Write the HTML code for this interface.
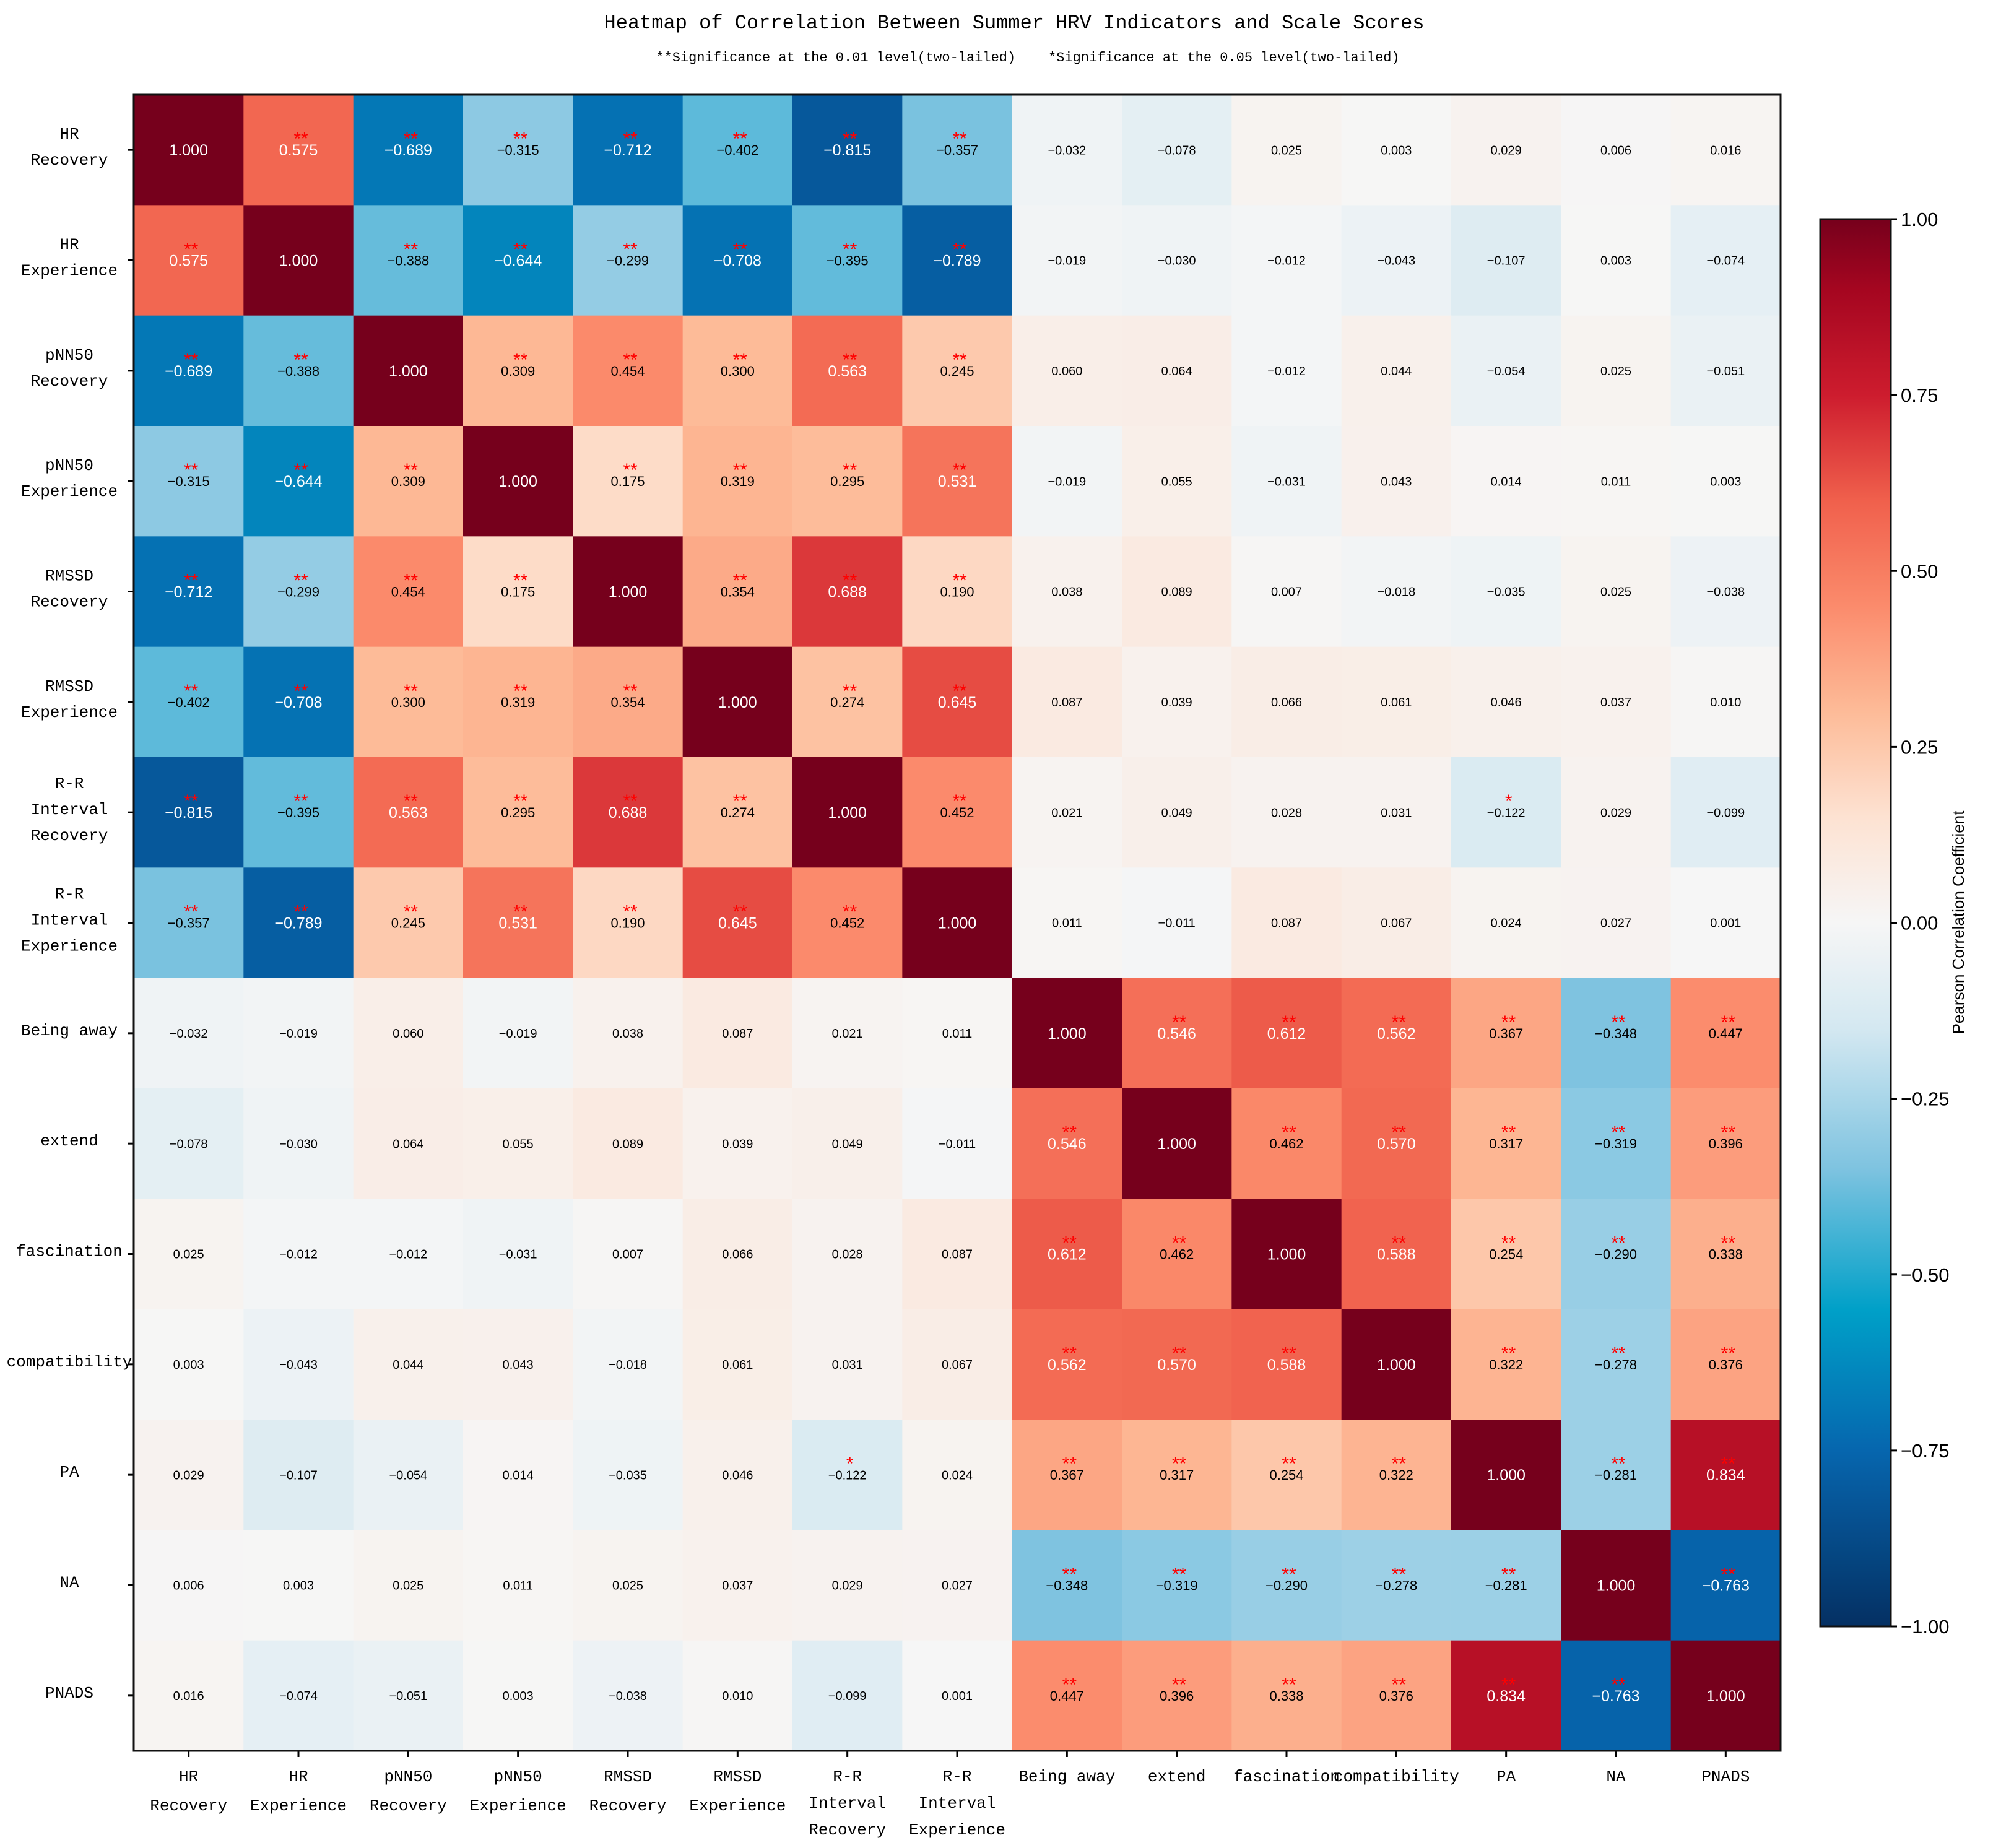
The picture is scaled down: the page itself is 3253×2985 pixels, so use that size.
<!DOCTYPE html>
<html><head><meta charset="utf-8"><style>
html,body{margin:0;padding:0;background:#fff;}
svg{display:block;}
</style></head><body>
<svg id="chart" width="3253" height="2985" viewBox="0 0 3253 2985" xmlns="http://www.w3.org/2000/svg">
<text x="1638" y="46" text-anchor="middle" font-family="Liberation Mono, monospace" font-size="32" fill="#000">Heatmap of Correlation Between Summer HRV Indicators and Scale Scores</text>
<text x="1660" y="99" text-anchor="middle" font-family="Liberation Mono, monospace" font-size="22" fill="#000" xml:space="preserve">**Significance at the 0.01 level(two-lailed)    *Significance at the 0.05 level(two-lailed)</text>
<g id="cells"></g>
<g id="ylabels"></g>
<g id="xlabels"></g>
<rect x="216" y="153" width="2660" height="2675" fill="none" stroke="#111" stroke-width="3"/>
<defs><linearGradient id="cbgrad" x1="0" y1="1" x2="0" y2="0"></linearGradient></defs>
<g id="colorbar"></g>
<text transform="translate(3172,1490) rotate(-90)" text-anchor="middle" font-family="Liberation Sans, sans-serif" font-size="26" fill="#000">Pearson Correlation Coefficient</text>
</svg>
<script>
const labels = [["HR","Recovery"],["HR","Experience"],["pNN50","Recovery"],["pNN50","Experience"],["RMSSD","Recovery"],["RMSSD","Experience"],["R-R","Interval","Recovery"],["R-R","Interval","Experience"],["Being away"],["extend"],["fascination"],["compatibility"],["PA"],["NA"],["PNADS"]];
const row0 = [1.000,0.575,-0.689,-0.315,-0.712,-0.402,-0.815,-0.357,-0.032,-0.078,0.025,0.003,0.029,0.006,0.016];
const row1 = [0.575,1.000,-0.388,-0.644,-0.299,-0.708,-0.395,-0.789,-0.019,-0.030,-0.012,-0.043,-0.107,0.003,-0.074];
const row2 = [-0.689,-0.388,1.000,0.309,0.454,0.300,0.563,0.245,0.060,0.064,-0.012,0.044,-0.054,0.025,-0.051];
const row3 = [-0.315,-0.644,0.309,1.000,0.175,0.319,0.295,0.531,-0.019,0.055,-0.031,0.043,0.014,0.011,0.003];
const row4 = [-0.712,-0.299,0.454,0.175,1.000,0.354,0.688,0.190,0.038,0.089,0.007,-0.018,-0.035,0.025,-0.038];
const row5 = [-0.402,-0.708,0.300,0.319,0.354,1.000,0.274,0.645,0.087,0.039,0.066,0.061,0.046,0.037,0.010];
const row6 = [-0.815,-0.395,0.563,0.295,0.688,0.274,1.000,0.452,0.021,0.049,0.028,0.031,-0.122,0.029,-0.099];
const row7 = [-0.357,-0.789,0.245,0.531,0.190,0.645,0.452,1.000,0.011,-0.011,0.087,0.067,0.024,0.027,0.001];
const row8 = [-0.032,-0.019,0.060,-0.019,0.038,0.087,0.021,0.011,1.000,0.546,0.612,0.562,0.367,-0.348,0.447];
const row9 = [-0.078,-0.030,0.064,0.055,0.089,0.039,0.049,-0.011,0.546,1.000,0.462,0.570,0.317,-0.319,0.396];
const row10 = [0.025,-0.012,-0.012,-0.031,0.007,0.066,0.028,0.087,0.612,0.462,1.000,0.588,0.254,-0.290,0.338];
const row11 = [0.003,-0.043,0.044,0.043,-0.018,0.061,0.031,0.067,0.562,0.570,0.588,1.000,0.322,-0.278,0.376];
const row12 = [0.029,-0.107,-0.054,0.014,-0.035,0.046,-0.122,0.024,0.367,0.317,0.254,0.322,1.000,-0.281,0.834];
const row13 = [0.006,0.003,0.025,0.011,0.025,0.037,0.029,0.027,-0.348,-0.319,-0.290,-0.278,-0.281,1.000,-0.763];
const row14 = [0.016,-0.074,-0.051,0.003,-0.038,0.010,-0.099,0.001,0.447,0.396,0.338,0.376,0.834,-0.763,1.000];
const matrix = [row0,row1,row2,row3,row4,row5,row6,row7,row8,row9,row10,row11,row12,row13,row14];
const cbTicks = [1.00,0.75,0.50,0.25,0.00,-0.25,-0.50,-0.75,-1.00];

const NS="http://www.w3.org/2000/svg";
const X0=216,Y0=153,W=2660,H=2675,n=labels.length,cw=W/n,ch=H/n;
const CBX=2940,CBW=114,CBT=354,CBB=2627;
const stops=[[-1,[5,48,99]],[-0.75,[6,102,174]],[-0.55,[0,160,200]],[-0.35,[126,195,224]],[-0.15,[212,232,241]],[0,[246,246,246]],[0.15,[253,226,210]],[0.3,[253,187,152]],[0.45,[251,139,108]],[0.6,[240,96,76]],[0.75,[205,28,46]],[0.9,[165,6,32]],[1,[118,0,28]]];
function cmap(v){v=Math.max(-1,Math.min(1,v));for(let i=0;i<stops.length-1;i++){const a=stops[i],b=stops[i+1];if(v<=b[0]){const t=(v-a[0])/(b[0]-a[0]);return "rgb("+a[1].map((c,k)=>Math.round(c+(b[1][k]-c)*t)).join(",")+")";}}return "rgb(118,0,28)";}
const xs=j=>X0+j*cw, ys=i=>Y0+i*ch, cbY=v=>CBB-(v+1)/2*(CBB-CBT);
function mk(tag,attrs,parent){const e=document.createElementNS(NS,tag);for(const k in attrs)e.setAttribute(k,attrs[k]);parent.appendChild(e);return e;}
const cells=document.getElementById('cells');
matrix.forEach((row,i)=>row.forEach((v,j)=>{
  const r=mk('rect',{x:xs(j),y:ys(i),width:cw+0.6,height:ch+0.6,fill:cmap(v)},cells);
  
  
  const a=Math.abs(v),cx=xs(j)+cw/2,cy=ys(i)+ch/2;
  const fs=a>=0.5?25:(a>=0.15?22:20);
  const t=mk('text',{x:cx,y:cy+fs*0.36,'text-anchor':'middle','font-family':'Liberation Sans, sans-serif','font-size':fs,fill:a>0.5?'#fff':'#000'},cells);
  t.textContent=v.toFixed(3).replace('-','\u2212');
  
  
  if(i!==j){let s='';if(a>=0.15)s='**';else if(a>=0.11)s='*';
    if(s){const st=mk('text',{x:cx+4,y:cy-8,'text-anchor':'middle','font-family':'Liberation Sans, sans-serif','font-size':30,fill:'#ff0000'},cells);st.textContent=s;
      
      }}
}));
const yl=document.getElementById('ylabels'),xl=document.getElementById('xlabels');
labels.forEach((lab,i)=>{
  const cy=ys(i)+ch/2;
  mk('line',{x1:207,x2:216,y1:cy,y2:cy,stroke:'#000','stroke-width':3},yl);
  const gap=42,start=cy-(lab.length-1)*gap/2-6;
  lab.forEach((s,k)=>{const t=mk('text',{x:112,y:start+k*gap+9,'text-anchor':'middle','font-family':'Liberation Mono, monospace','font-size':26,fill:'#000'},yl);t.textContent=s;
    
    });
  const cx=xs(i)+cw/2;
  mk('line',{x1:cx,x2:cx,y1:2828,y2:2838,stroke:'#000','stroke-width':3},xl);
  const g2=lab.length===3?43:47;
  lab.forEach((s,k)=>{const t=mk('text',{x:cx,y:2877+k*g2,'text-anchor':'middle','font-family':'Liberation Mono, monospace','font-size':26,fill:'#000'},xl);t.textContent=s;
    
    });
});
const grad=document.getElementById('cbgrad');
for(let k=0;k<=40;k++){const v=-1+k/20;mk('stop',{offset:(k/40),'stop-color':cmap(v)},grad);}
const cb=document.getElementById('colorbar');
mk('rect',{x:CBX,y:CBT,width:CBW,height:CBB-CBT,fill:'url(#cbgrad)',stroke:'#111','stroke-width':3},cb);
cbTicks.forEach(v=>{const y=cbY(v);
  mk('line',{x1:CBX+CBW,x2:CBX+CBW+10,y1:y,y2:y,stroke:'#000','stroke-width':3},cb);
  const t=mk('text',{x:CBX+CBW+16,y:y+11,'font-family':'Liberation Sans, sans-serif','font-size':31,fill:'#000'},cb);
  t.textContent=v.toFixed(2).replace('-','\u2212');
  
  });
</script>
</body></html>
